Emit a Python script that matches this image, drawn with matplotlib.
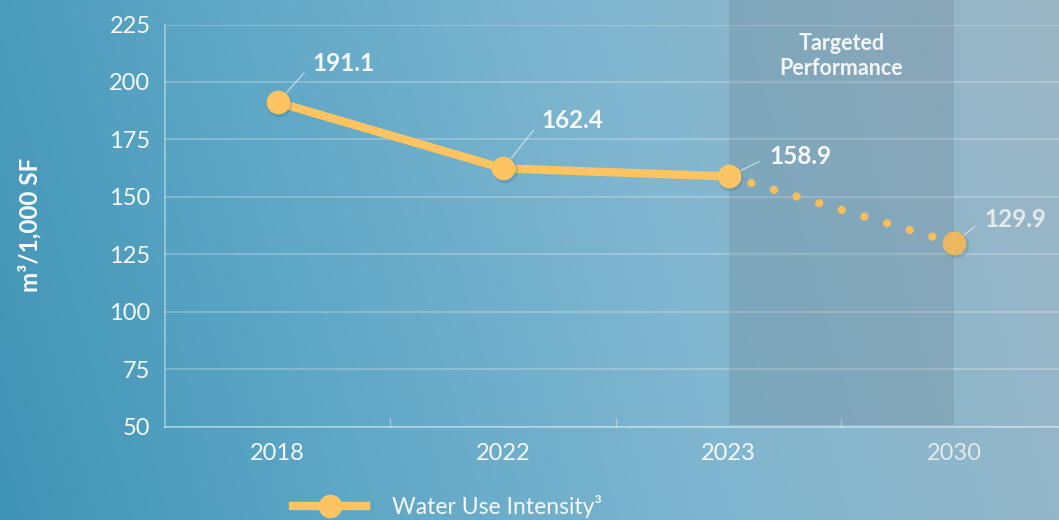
import matplotlib.pyplot as plt
import numpy as np
from matplotlib.colors import LinearSegmentedColormap
from matplotlib.lines import Line2D
from matplotlib.patches import Rectangle

# --- date ---
years = ['2018', '2022', '2023', '2030']
wui = [191.1, 162.4, 158.9, 129.9]
n_actual = 3  # 2018-2023 masurat, 2030 = tinta
y_ticks = [50, 75, 100, 125, 150, 175, 200, 225]
label_offsets = [(25, 28), (27.4, 34.6), (29.5, 14.4), (21.6, 17.3)]

plt.rcParams['font.family'] = ['Lato', 'DejaVu Sans']
line_col = '#fec461'
text_col = '#f7fafc'

fig = plt.figure(figsize=(10.59, 5.20), dpi=100)

# fundal gradient
bg = fig.add_axes([0, 0, 1, 1], zorder=-10)
xx, yy = np.meshgrid(np.linspace(0, 1, 400), np.linspace(0, 1, 200))
grad = np.clip(xx * 0.9 + (1 - yy) * 0.12, 0, 1)
cmap_bg = LinearSegmentedColormap.from_list(
    'bg', [(0, '#4094b6'), (0.3, '#5ea7c6'), (0.62, '#80b6d0'), (1.0, '#9ab6c6')])
bg.imshow(grad, cmap=cmap_bg, aspect='auto', extent=[0, 1, 0, 1], origin='upper')
bg.axis('off')

ax = fig.add_axes([165 / 1059, (520 - 426.7) / 520, (1059 - 165) / 1059, 402.2 / 520])
ax.set_facecolor('none')
x = np.arange(len(years))
ax.set_xlim(-0.5, 3.465)
ax.set_ylim(50, 225)

# zona tinta
ax.add_patch(Rectangle((n_actual - 1, 50.8), 1, 185, facecolor='#5f6f7a', alpha=0.2,
                       edgecolor='none', clip_on=False, zorder=1))
ax.text(2.5, 211.3, 'Targeted\nPerformance', ha='center', va='center', fontsize=15.5,
        fontweight='bold', color='#f2f6f8', linespacing=1.25, zorder=5)

# grid si axe
ax.set_yticks(y_ticks)
ax.grid(axis='y', color='white', alpha=0.3, lw=1.1)
ax.set_axisbelow(True)
for s in ['top', 'right']:
    ax.spines[s].set_visible(False)
for s in ['left', 'bottom']:
    ax.spines[s].set_color((1, 1, 1, 0.4))
    ax.spines[s].set_linewidth(1.3)
ax.set_xticks(x)
ax.set_xticklabels(years)
ax.set_xticks(x[:-1] + 0.5, minor=True)
ax.tick_params(axis='x', which='major', length=0, pad=12, labelsize=17, labelcolor=text_col)
ax.tick_params(axis='x', which='minor', direction='in', length=6.5, width=1, color=(1, 1, 1, 0.4))
ax.tick_params(axis='y', length=0, pad=10.5, labelsize=17, labelcolor=text_col)
ax.get_xticklabels()[-1].set_color('#e3eaee')

fig.text(30 / 1059, (520 - 225) / 520, 'm³/1,000 SF', rotation=90, ha='center', va='center',
         fontsize=17.5, fontweight='bold', color=text_col)

# linia
ax.plot(x[:n_actual], wui[:n_actual], color=line_col, lw=6, solid_capstyle='round', zorder=3)
ax.plot(x[n_actual - 1:], wui[n_actual - 1:], color='#f6be5e', lw=6,
        linestyle=(0, (0.001, 2.83)), dash_capstyle='round', zorder=3)
# umbra markeri
ax.plot(x + 0.006, np.array(wui) - 0.8, 'o', ms=18.5, color='#2b5a70', alpha=0.18,
        markeredgewidth=0, zorder=3)
ax.plot(x[:n_actual], wui[:n_actual], 'o', ms=17, color=line_col, markeredgewidth=0, zorder=4)
ax.plot(x[n_actual:], wui[n_actual:], 'o', ms=17, color='#ebb85f', markeredgewidth=0, zorder=4)

for i, v in enumerate(wui):
    col = text_col if i < n_actual else '#e3eaee'
    ax.annotate(f'{v}', xy=(x[i], v), xytext=label_offsets[i], textcoords='offset points',
                ha='left', va='center', fontsize=17.5, fontweight='bold', color=col, zorder=6,
                arrowprops=dict(arrowstyle='-', color=(1, 1, 1, 0.55), lw=0.9,
                                shrinkA=6, shrinkB=9.5, relpos=(0, 0.5)))

handle = Line2D([], [], color=line_col, lw=6, marker='o', ms=17, markeredgewidth=0)
fig.legend([handle], ['Water Use Intensity³'], loc='center left',
           bbox_to_anchor=(293 / 1059, (520 - 507) / 520), frameon=False, numpoints=1,
           handlelength=3.2, handletextpad=1.1, borderpad=0, borderaxespad=0,
           prop={'size': 16.5}, labelcolor=text_col)

fig.savefig('out.png', dpi=100)
